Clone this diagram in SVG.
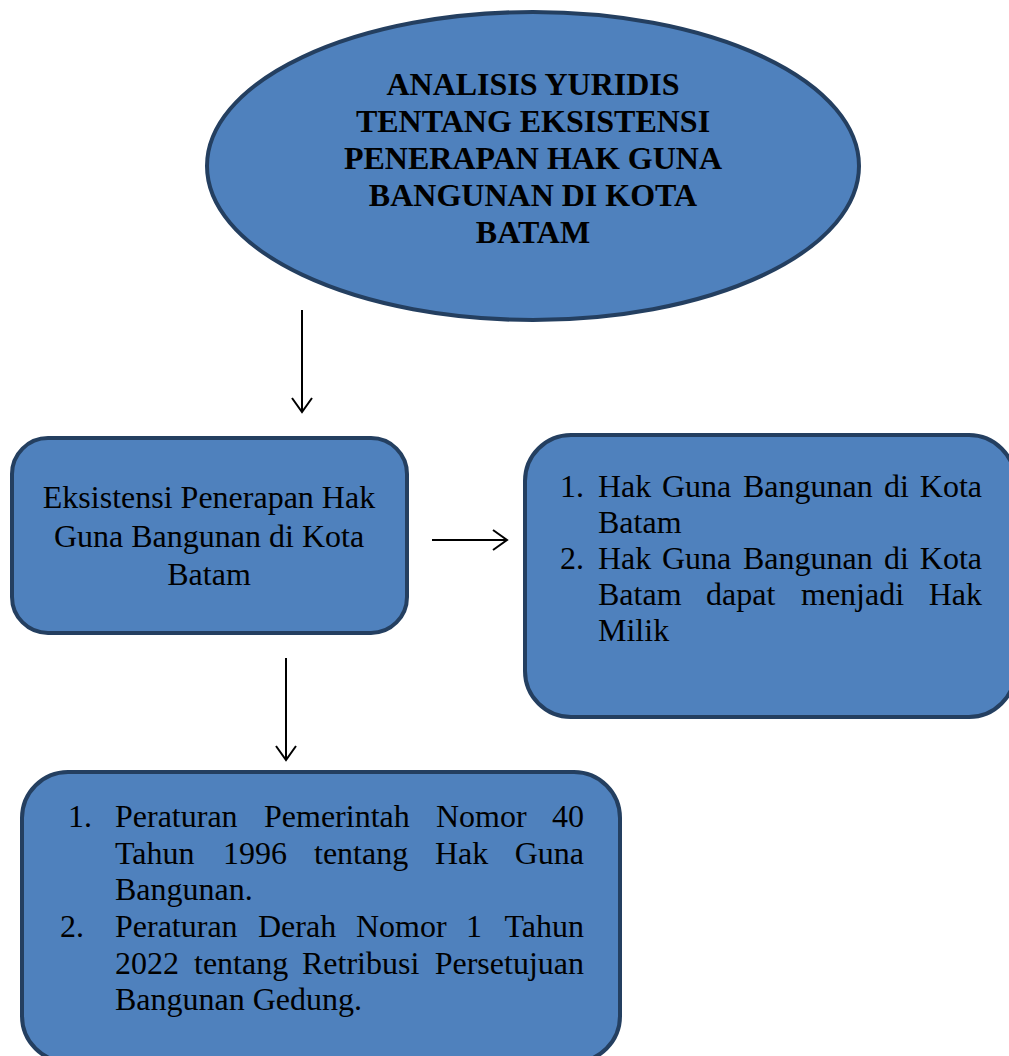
<svg xmlns="http://www.w3.org/2000/svg" width="1009" height="1056" viewBox="0 0 1009 1056">
<style>
.shape{fill:#4F81BD;stroke:#243F60;stroke-width:4}
.t{font-family:"Liberation Serif","Times New Roman",serif;font-size:32px;fill:#000}
.b{font-weight:bold}
.c{text-anchor:middle}
.e{text-anchor:end}
.conn{stroke:#000;stroke-width:2;fill:none}
</style>
<defs>
<marker id="arr" markerUnits="userSpaceOnUse" markerWidth="30" markerHeight="30" refX="0" refY="0" viewBox="-15 -15 30 30" orient="auto" overflow="visible">
<path d="M-14,-10 L0,0 L-14,10" fill="none" stroke="#000" stroke-width="2"/>
</marker>
</defs>
<rect width="1009" height="1056" fill="#fff"/>
<g id="connectors">
<line class="conn" x1="302" y1="310" x2="302" y2="412" marker-end="url(#arr)"/>
<line class="conn" x1="432" y1="540" x2="507" y2="540" marker-end="url(#arr)"/>
<line class="conn" x1="286" y1="658" x2="286" y2="760" marker-end="url(#arr)"/>
</g>
<g id="node-title">
<ellipse class="shape" cx="533" cy="166" rx="326" ry="154"/>
<text class="t b c" x="533" y="95">ANALISIS YURIDIS</text>
<text class="t b c" x="533" y="132">TENTANG EKSISTENSI</text>
<text class="t b c" x="533" y="169">PENERAPAN HAK GUNA</text>
<text class="t b c" x="533" y="206">BANGUNAN DI KOTA</text>
<text class="t b c" x="533" y="243">BATAM</text>
</g>
<g id="node-eksistensi">
<rect class="shape" x="12" y="438" width="395" height="195" rx="36"/>
<text class="t c" x="209" y="508">Eksistensi Penerapan Hak</text>
<text class="t c" x="209" y="547">Guna Bangunan di Kota</text>
<text class="t c" x="209" y="585">Batam</text>
</g>
<g id="node-hgb">
<rect class="shape" x="525" y="435" width="490" height="282" rx="46"/>
<text class="t" x="560" y="497">1.</text>
<text class="t" x="598" y="497">Hak</text>
<text class="t" x="662" y="497">Guna</text>
<text class="t" x="743" y="497">Bangunan</text>
<text class="t" x="884" y="497">di</text>
<text class="t e" x="982" y="497">Kota</text>
<text class="t" x="598" y="533">Batam</text>
<text class="t" x="560" y="569">2.</text>
<text class="t" x="598" y="569">Hak</text>
<text class="t" x="662" y="569">Guna</text>
<text class="t" x="743" y="569">Bangunan</text>
<text class="t" x="884" y="569">di</text>
<text class="t e" x="982" y="569">Kota</text>
<text class="t" x="598" y="605">Batam</text>
<text class="t" x="706" y="605">dapat</text>
<text class="t" x="801" y="605">menjadi</text>
<text class="t e" x="982" y="605">Hak</text>
<text class="t" x="598" y="641">Milik</text>
</g>
<g id="node-peraturan">
<rect class="shape" x="22" y="772" width="598" height="290" rx="46"/>
<text class="t" x="68" y="827">1.</text>
<text class="t" x="115" y="827">Peraturan</text>
<text class="t" x="264" y="827">Pemerintah</text>
<text class="t" x="436" y="827">Nomor</text>
<text class="t e" x="584" y="827">40</text>
<text class="t" x="115" y="864">Tahun</text>
<text class="t" x="223" y="864">1996</text>
<text class="t" x="314" y="864">tentang</text>
<text class="t" x="435" y="864">Hak</text>
<text class="t e" x="584" y="864">Guna</text>
<text class="t" x="115" y="900">Bangunan.</text>
<text class="t" x="60" y="937">2.</text>
<text class="t" x="115" y="937">Peraturan</text>
<text class="t" x="258" y="937">Derah</text>
<text class="t" x="356" y="937">Nomor</text>
<text class="t" x="466" y="937">1</text>
<text class="t e" x="584" y="937">Tahun</text>
<text class="t" x="115" y="974">2022</text>
<text class="t" x="194" y="974">tentang</text>
<text class="t" x="302" y="974">Retribusi</text>
<text class="t e" x="584" y="974">Persetujuan</text>
<text class="t" x="115" y="1010">Bangunan Gedung.</text>
</g>
</svg>
